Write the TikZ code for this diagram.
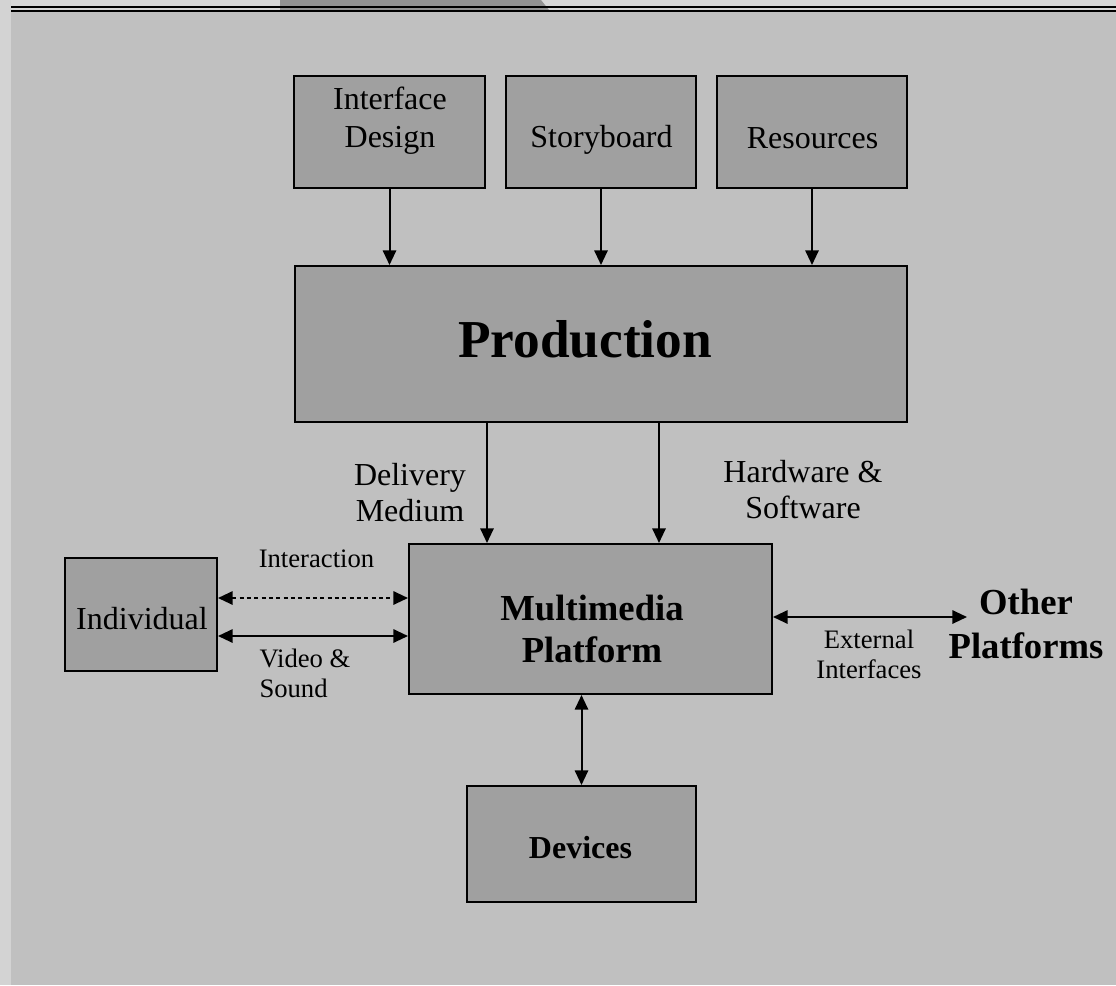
\documentclass[tikz,border=0pt]{standalone}
\usepackage{fontspec}
\setmainfont{Liberation Serif}
\usetikzlibrary{arrows.meta}

\definecolor{slidebg}{RGB}{192,192,192}
\definecolor{boxfill}{RGB}{160,160,160}
\definecolor{stripbg}{RGB}{211,211,211}
\definecolor{bandbg}{RGB}{216,216,216}
\definecolor{tabgray}{RGB}{147,147,147}

\tikzset{every picture/.style={line width=0.75pt}}
\tikzset{
  blockbox/.style={draw=black, fill=boxfill, line width=1.5pt, inner sep=0pt},
  flow/.style={line width=1.5pt, -{Triangle[length=11pt,width=10pt]}},
  twoway/.style={line width=1.5pt, {Triangle[length=11pt,width=10pt]}-{Triangle[length=11pt,width=10pt]}},
  boxtext/.style={anchor=base, inner sep=0pt, align=center, font=\fontsize{24}{28.5}\selectfont},
  midtext/.style={anchor=base, inner sep=0pt, align=center, font=\fontsize{24}{26.5}\selectfont},
  smalltext/.style={anchor=base, inner sep=0pt, align=center, font=\fontsize{20}{22.5}\selectfont},
  boldtext/.style={anchor=base, inner sep=0pt, align=center, font=\bfseries\fontsize{27.5}{31}\selectfont}
}

\begin{document}
\begin{tikzpicture}[x=0.75pt,y=0.75pt,yscale=-1,xscale=1]
\useasboundingbox (0,0) rectangle (1116,985);

%Slide background
\fill[slidebg] (0,0) rectangle (1116,985);
\fill[stripbg] (0,0) rectangle (11,985);
\fill[bandbg] (11,0) rectangle (1116,10);
\fill[tabgray] (280,0) -- (541,0) -- (549,10) -- (280,10) -- cycle;
\draw[line width=1.5pt] (11,6.7) -- (1116,6.7);
\draw[line width=1.5pt] (11,10.7) -- (1116,10.7);

%Shape: Rectangle [top row]
\node[blockbox, minimum width=143.25pt, minimum height=84pt] (idesign) at (389.5,132) {};
\node[blockbox, minimum width=142.5pt, minimum height=84pt] (story) at (601,132) {};
\node[blockbox, minimum width=142.5pt, minimum height=84pt] (resrc) at (812,132) {};
%Shape: Rectangle [Production]
\node[blockbox, minimum width=459pt, minimum height=117pt] (prod) at (601,344) {};
%Shape: Rectangle [Platform]
\node[blockbox, minimum width=272.25pt, minimum height=112.5pt] (mmp) at (590.5,619) {};
%Shape: Rectangle [Individual]
\node[blockbox, minimum width=114pt, minimum height=84.75pt] (indiv) at (141,614.5) {};
%Shape: Rectangle [Devices]
\node[blockbox, minimum width=171.75pt, minimum height=87pt] (dev) at (581.5,844) {};

% Text Node
\node[boxtext] (idesigntxt) at (390,147) {Interface\\Design};
% Text Node
\node[boxtext] (storytxt) at (601.5,147) {Storyboard};
% Text Node
\node[boxtext] (resrctxt) at (812.5,148) {Resources};
% Text Node
\node[anchor=base, inner sep=0pt, font=\bfseries\fontsize{40}{44}\selectfont] (prodtxt) at (585,357) {Production};
% Text Node
\node[boldtext] (mmptxt) at (592,662) {Multimedia\\Platform};
% Text Node
\node[boxtext] (indivtxt) at (142,629) {Individual};
% Text Node
\node[anchor=base, inner sep=0pt, font=\bfseries\fontsize{24}{27}\selectfont] (devtxt) at (580.5,858) {Devices};

%Connector labels
\node[midtext] (deliv) at (410,521) {Delivery\\Medium};
\node[midtext] (hwsw) at (803,518) {Hardware \&\\Software};
\node[smalltext] (interact) at (316.5,567) {Interaction};
\node[smalltext, align=left, anchor=base west] (vidsnd) at (259,697) {Video \&\\Sound};
\node[smalltext] (extif) at (869,678) {External\\Interfaces};
\node[anchor=base, inner sep=0pt, align=center, font=\bfseries\fontsize{27.5}{33}\selectfont] (otherpl) at (1026,658) {Other\\Platforms};

%Connector ends
\coordinate (delx) at (487,0);
\coordinate (hwx) at (659,0);
\coordinate (intery) at (0,598);
\coordinate (vidy) at (0,636);
\coordinate (extend) at (967,617);

%Straight Lines
\draw[flow] (idesign.south) -- (idesign.south |- prod.north);
\draw[flow] (story.south) -- (story.south |- prod.north);
\draw[flow] (resrc.south) -- (resrc.south |- prod.north);
\draw[flow] (prod.south -| delx) -- (mmp.north -| delx);
\draw[flow] (prod.south -| hwx) -- (mmp.north -| hwx);
\draw[twoway, dash pattern=on 3pt off 2.5pt] (indiv.east |- intery) -- (mmp.west |- intery);
\draw[twoway] (indiv.east |- vidy) -- (mmp.west |- vidy);
\draw[twoway] (mmp.east |- extend) -- (extend);
\draw[twoway] (mmp.south -| dev.north) -- (dev.north);

\end{tikzpicture}
\end{document}
